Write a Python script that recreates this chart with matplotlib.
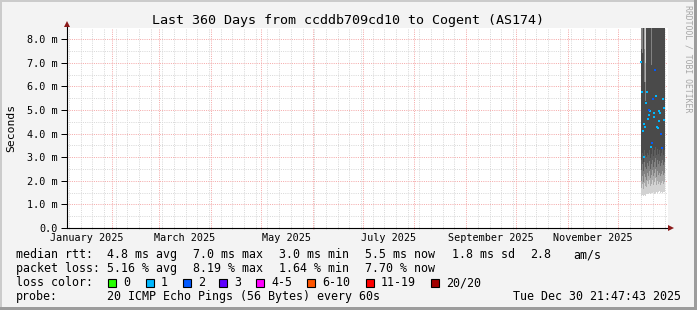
import matplotlib
matplotlib.use('Agg')
import matplotlib.pyplot as plt
import matplotlib.dates as mdates
from matplotlib.patches import Rectangle
from matplotlib.ticker import MultipleLocator
from datetime import datetime, timedelta
import bisect

W, H = 697, 310
plt.rcParams['font.family'] = ['DejaVu Sans Mono', 'DejaVu Sans']

# ---------------- data ----------------
title = "Last 360 Days from ccddb709cd10 to Cogent (AS174)"
end_time = datetime(2025, 12, 30, 21, 47, 43)
span_days = 360
first_sample = datetime(2025, 12, 14, 12, 0)
step_hours = 12

median_ms = [7.05, 5.78, 4.10, 3.00, 4.40, 4.29, 5.30, 5.78, 4.63, 5.00,
             4.80, 4.97, 3.42, 3.60, 5.47, 4.89, 4.70, 6.70, 5.60, 4.29,
             4.22, 4.55, 4.95, 4.89, 4.00, 3.38, 5.48, 5.10, 4.60]
loss_pings = [1, 1, 1, 1, 1, 1, 1, 1, 1, 2,
              1, 1, 1, 2, 2, 1, 1, 2, 1, 1,
              1, 1, 1, 1, 2, 2, 1, 1, 1]
smoke_min = [1.36, 1.34, 1.38, 1.35, 1.40, 1.37, 1.42, 1.44, 1.46, 1.43,
             1.48, 1.45, 1.50, 1.47, 1.49, 1.52, 1.46, 1.50, 1.48, 1.53,
             1.49, 1.51, 1.55, 1.50, 1.47, 1.52, 1.49, 1.54, 1.51]
smoke_p05 = [1.75, 1.70, 1.85, 1.65, 1.90, 1.80, 1.95, 1.72, 1.98, 1.86,
             2.02, 1.78, 1.92, 1.88, 2.05, 1.84, 1.96, 2.10, 1.90, 1.82,
             2.00, 1.87, 1.97, 1.83, 2.04, 1.91, 2.01, 1.86, 1.95]
smoke_p10 = [2.10, 2.00, 2.20, 1.95, 2.30, 2.15, 2.25, 2.05, 2.35, 2.20,
             2.40, 2.10, 2.30, 2.25, 2.45, 2.20, 2.35, 2.50, 2.30, 2.15,
             2.40, 2.25, 2.35, 2.20, 2.45, 2.30, 2.40, 2.25, 2.35]
smoke_p17 = [2.55, 2.45, 2.70, 2.40, 2.80, 2.60, 2.85, 2.50, 2.75, 2.65,
             2.85, 2.50, 2.80, 2.70, 2.90, 2.60, 2.80, 2.95, 2.75, 2.60,
             2.88, 2.70, 2.82, 2.62, 2.85, 2.75, 2.90, 2.66, 2.80]
smoke_p25 = [3.00, 2.90, 3.20, 2.80, 3.30, 3.10, 3.40, 3.00, 3.20, 3.10,
             3.30, 2.95, 3.25, 3.15, 3.40, 3.05, 3.30, 3.45, 3.20, 3.10,
             3.35, 3.15, 3.30, 3.05, 3.25, 3.20, 3.40, 3.10, 3.30]
smoke_p75 = [10.5, 7.6, 7.4, 9.8, 6.2, 5.4, 5.6, 9.6, 10.2, 9.9,
             9.4, 10.1, 6.7, 6.9, 9.7, 10.4, 9.6, 10.8, 9.9, 9.5,
             10.3, 9.8, 10.0, 9.7, 9.4, 10.2, 9.9, 9.6, 10.1]
smoke_p83 = [12.0, 9.2, 8.9, 11.4, 7.6, 6.2, 6.4, 11.0, 11.8, 11.3,
             10.7, 11.6, 8.3, 8.6, 11.1, 12.1, 11.0, 12.5, 11.4, 10.8,
             11.9, 11.2, 11.5, 11.1, 10.7, 11.8, 11.3, 10.9, 11.6]
smoke_p90 = [14.0, 11.0, 10.5, 13.0, 9.2, 7.0, 7.2, 12.5, 13.5, 12.8,
             12.0, 13.2, 10.0, 10.4, 12.6, 13.8, 12.4, 14.2, 12.9, 12.2,
             13.6, 12.7, 13.1, 12.5, 12.1, 13.4, 12.8, 12.3, 13.0]
smoke_max = [25.0, 19.0, 18.0, 23.0, 16.0, 12.0, 12.5, 22.0, 24.0, 23.0,
             21.0, 24.5, 17.0, 18.0, 22.5, 25.0, 22.0, 26.0, 23.5, 21.5,
             24.0, 22.5, 23.0, 22.0, 21.0, 24.0, 23.0, 22.0, 23.5]

y_ticks = [0, 1, 2, 3, 4, 5, 6, 7, 8]
y_max = 8.48
y_label = "Seconds"
label_months = [1, 3, 5, 7, 9, 11]
label_year = 2025

loss_bins = ["0", "1", "2", "3", "4-5", "6-10", "11-19", "20/20"]
loss_bin_upper = [0, 1, 2, 3, 5, 10, 19, 20]
loss_colors = ["#26ff00", "#00b8ff", "#0059ff", "#5e00ff",
               "#ff00fe", "#ff5500", "#ff0000", "#a10000"]

row_labels = ["median rtt:", "packet loss:", "loss color:", "probe:"]
rtt_stats = ["4.8 ms avg", "7.0 ms max", "3.0 ms min", "5.5 ms now",
             "1.8 ms sd", "2.8", "am/s"]
loss_stats = ["5.16 % avg", "8.19 % max", "1.64 % min", "7.70 % now"]
probe_text = "20 ICMP Echo Pings (56 Bytes) every 60s"
timestamp = "Tue Dec 30 21:47:43 2025"
watermark = "RRDTOOL / TOBI OETIKER"

# ---------------- figure ----------------
BG = '#f3f3f3'
fig = plt.figure(figsize=(W / 100, H / 100), dpi=100, facecolor=BG)

def fx(px):
    return px / W

def fy(py):
    return 1 - py / H

# 3D frame
fig.add_artist(Rectangle((0, 0), fx(2), 1, transform=fig.transFigure,
                         facecolor='#cbcbcb', edgecolor='none'))
fig.add_artist(Rectangle((0, fy(2)), 1, 2 / H, transform=fig.transFigure,
                         facecolor='#cbcbcb', edgecolor='none'))
fig.add_artist(Rectangle((fx(W - 3), 0), 3 / W, 1, transform=fig.transFigure,
                         facecolor='#9c9c9c', edgecolor='none'))
fig.add_artist(Rectangle((0, 0), 1, 3 / H, transform=fig.transFigure,
                         facecolor='#9c9c9c', edgecolor='none'))

left, right, top, bottom = 67, 668, 28, 228
ax = fig.add_axes([fx(left), fy(bottom), (right - left) / W, (bottom - top) / H])
ax.set_facecolor('white')
for s in ax.spines.values():
    s.set_visible(False)

t0 = end_time - timedelta(days=span_days)
ax.set_xlim(mdates.date2num(t0), mdates.date2num(end_time))
ax.set_ylim(0, y_max)

# grid
ax.xaxis.set_major_locator(mdates.MonthLocator(bymonthday=1))
ax.xaxis.set_minor_locator(mdates.WeekdayLocator(byweekday=mdates.MO))
ax.yaxis.set_major_locator(MultipleLocator(1))
ax.yaxis.set_minor_locator(MultipleLocator(0.5))
ax.set_yticks(y_ticks)
ax.set_yticklabels(["0.0" if v == 0 else f"{v:.1f} m" for v in y_ticks])
ax.set_axisbelow(True)
dot = (0, (1, 1.2))
ax.grid(which='minor', color='#d9d9d9', linestyle=dot, linewidth=0.72)
ax.grid(which='major', color='#f5aaaa', linestyle=dot, linewidth=0.72)
ax.tick_params(axis='x', which='both', labelbottom=False, length=2,
               direction='inout', width=0.72)
ax.tick_params(axis='x', which='major', color='#f29c9c')
ax.tick_params(axis='x', which='minor', color='#cfcfcf')
ax.tick_params(axis='y', which='major', length=4, width=0.72, color='black',
               labelsize=7.3, pad=3)
ax.tick_params(axis='y', which='minor', length=0)

# smoke
times = [first_sample + timedelta(hours=step_hours * i) for i in range(len(median_ms))]
edges = times + [times[-1] + timedelta(hours=step_hours)]
xe = mdates.date2num(edges)

def ext(a):
    return list(a) + [a[-1]]

bands = [(smoke_min, smoke_max, '#d2d2d2'),
         (smoke_p05, smoke_p90, '#aaaaaa'),
         (smoke_p10, smoke_p83, '#828282'),
         (smoke_p17, smoke_p75, '#5e5e5e'),
         (smoke_p25, smoke_p75, '#4a4a4a')]
for lo, hi, col in bands:
    ax.fill_between(xe, ext(lo), ext(hi), step='post', color=col, linewidth=0)

# medians coloured by loss
centers = [t + timedelta(hours=step_hours / 2) for t in times]
for b, col in enumerate(loss_colors):
    xs = [mdates.date2num(c) for c, l in zip(centers, loss_pings)
          if bisect.bisect_left(loss_bin_upper, round(l)) == b]
    ys = [m for m, l in zip(median_ms, loss_pings)
          if bisect.bisect_left(loss_bin_upper, round(l)) == b]
    if xs:
        ax.plot(xs, ys, linestyle='none', marker='s', markersize=1.8,
                markeredgewidth=0, color=col, zorder=5)

# axes lines with arrows
ax.plot([0, 1.004], [0, 0], color='black', lw=0.8, transform=ax.transAxes,
        clip_on=False, zorder=6)
ax.plot([0, 0], [0, 1.015], color='black', lw=0.8, transform=ax.transAxes,
        clip_on=False, zorder=6)
ax.plot([1.0055], [0], marker='>', markersize=4, color='#8b1a1a',
        markeredgewidth=0, transform=ax.transAxes, clip_on=False, zorder=7)
ax.plot([0], [1.022], marker='^', markersize=4, color='#8b1a1a',
        markeredgewidth=0, transform=ax.transAxes, clip_on=False, zorder=7)

# month labels at mid-month
xt = ax.get_xaxis_transform()
for m in label_months:
    start = datetime(label_year, m, 1)
    nxt = datetime(label_year + (m == 12), m % 12 + 1, 1)
    mid = start + (nxt - start) / 2
    ax.text(mdates.date2num(mid), -13 / 200,
            start.strftime('%B %Y'), transform=xt, ha='center',
            va='baseline', fontsize=7.3)

# title / labels
fig.text(0.5, fy(24), title, ha='center', va='baseline', fontsize=9.6)
fig.text(fx(11), fy(128), y_label, rotation=90, ha='center', va='center',
         fontsize=8.2)
fig.text(fx(688), fy(59), watermark, rotation=270, ha='center', va='center',
         fontsize=5.9, color='#a6a6a6')

# legend
LS = 8.4
base = [258, 272, 286, 300]
for lbl, b in zip(row_labels, base):
    fig.text(fx(16), fy(b), lbl, fontsize=LS, va='baseline')
for txt, x in zip(rtt_stats, [107, 193, 279, 365, 452, 530, 573]):
    fig.text(fx(x), fy(base[0]), txt, fontsize=LS, va='baseline')
for txt, x in zip(loss_stats, [107, 193, 279, 365]):
    fig.text(fx(x), fy(base[1]), txt, fontsize=LS, va='baseline')
for name, col, x in zip(loss_bins, loss_colors, [108, 146, 183, 219, 256, 307, 366, 431]):
    fig.add_artist(Rectangle((fx(x), fy(286.5)), 8 / W, 8 / H,
                             transform=fig.transFigure, facecolor=col,
                             edgecolor='black', linewidth=0.8))
    fig.text(fx(x + 15), fy(base[2]), name, fontsize=LS, va='baseline')
fig.text(fx(107), fy(base[3]), probe_text, fontsize=LS, va='baseline')
fig.text(fx(681), fy(base[3]), timestamp, fontsize=LS, va='baseline', ha='right')

fig.savefig('out.png', dpi=100, facecolor=BG)
